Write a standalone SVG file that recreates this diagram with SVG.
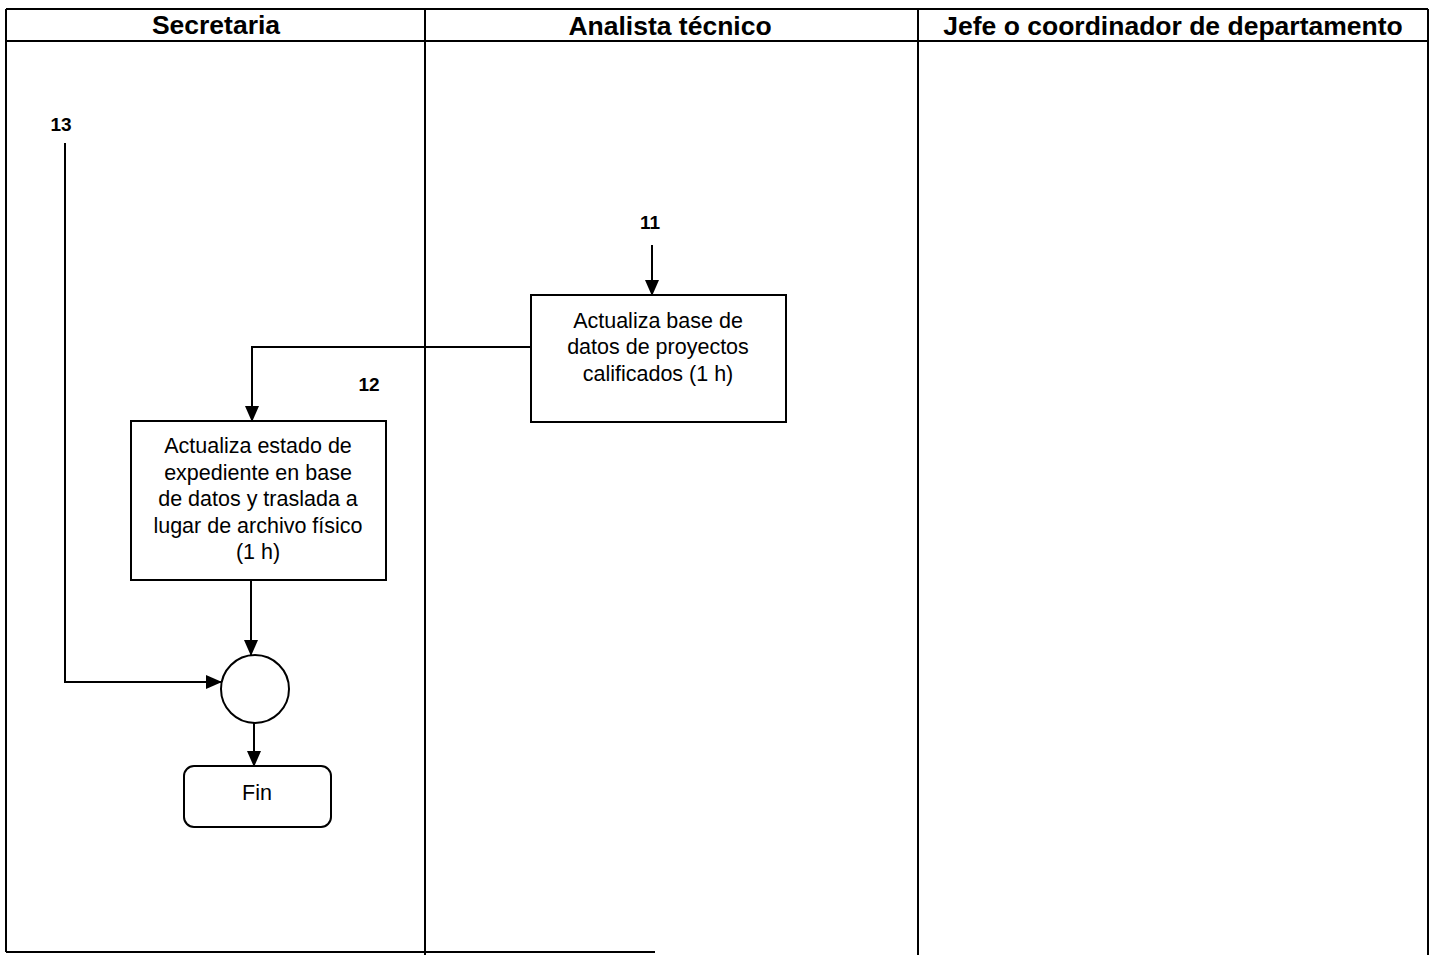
<svg xmlns="http://www.w3.org/2000/svg" width="1432" height="955" viewBox="0 0 1432 955">
<style>
.ln{stroke:#000;stroke-width:2;fill:none}
.bx{stroke:#000;stroke-width:2;fill:#fff}
.hd{font-family:"Liberation Sans",Arial,sans-serif;font-weight:bold;font-size:26.5px;text-anchor:middle;fill:#000}
.tx{font-family:"Liberation Sans",Arial,sans-serif;font-size:21.5px;text-anchor:middle;fill:#000}
.nm{font-family:"Liberation Sans",Arial,sans-serif;font-weight:bold;font-size:19px;text-anchor:middle;fill:#000}
</style>
<defs>
<marker id="ah" markerWidth="16" markerHeight="14" refX="15" refY="7" orient="auto" markerUnits="userSpaceOnUse">
<path d="M0,0 L16,7 L0,14 Z" fill="#000"/>
</marker>
</defs>
<rect width="1432" height="955" fill="#fff"/>
<g id="lanes">
<line class="ln" x1="6" y1="9" x2="1428" y2="9"/>
<line class="ln" x1="6" y1="41" x2="1428" y2="41"/>
<line class="ln" x1="6" y1="9" x2="6" y2="952"/>
<line class="ln" x1="425" y1="9" x2="425" y2="955"/>
<line class="ln" x1="918" y1="9" x2="918" y2="955"/>
<line class="ln" x1="1428" y1="9" x2="1428" y2="955"/>
<line class="ln" x1="6" y1="952" x2="655" y2="952"/>
<text class="hd" x="216" y="34">Secretaria</text>
<text class="hd" x="670" y="35">Analista técnico</text>
<text class="hd" x="1173" y="35">Jefe o coordinador de departamento</text>
</g>
<g id="connectors">
<path class="ln" d="M652,245 L652,295" marker-end="url(#ah)"/>
<path class="ln" d="M531,347 L252,347 L252,421" marker-end="url(#ah)"/>
<path class="ln" d="M251,580 L251,655" marker-end="url(#ah)"/>
<path class="ln" d="M65,143 L65,682 L221,682" marker-end="url(#ah)"/>
<path class="ln" d="M254,723 L254,766" marker-end="url(#ah)"/>
</g>
<g id="label13"><text class="nm" x="61" y="131">13</text></g>
<g id="label11"><text class="nm" x="650" y="229">11</text></g>
<g id="label12"><text class="nm" x="369" y="391">12</text></g>
<g id="box-analista">
<rect class="bx" x="531" y="295" width="255" height="127"/>
<text class="tx" x="658" y="328">Actualiza base de</text>
<text class="tx" x="658" y="354">datos de proyectos</text>
<text class="tx" x="658" y="381">calificados (1 h)</text>
</g>
<g id="box-secretaria">
<rect class="bx" x="131" y="421" width="255" height="159"/>
<text class="tx" x="258" y="453">Actualiza estado de</text>
<text class="tx" x="258" y="480">expediente en base</text>
<text class="tx" x="258" y="506">de datos y traslada a</text>
<text class="tx" x="258" y="533">lugar de archivo físico</text>
<text class="tx" x="258" y="559">(1 h)</text>
</g>
<g id="connector-circle">
<circle class="bx" cx="255" cy="689" r="34"/>
</g>
<g id="fin">
<rect class="bx" x="184" y="766" width="147" height="61" rx="10"/>
<text class="tx" x="257" y="800">Fin</text>
</g>
</svg>
